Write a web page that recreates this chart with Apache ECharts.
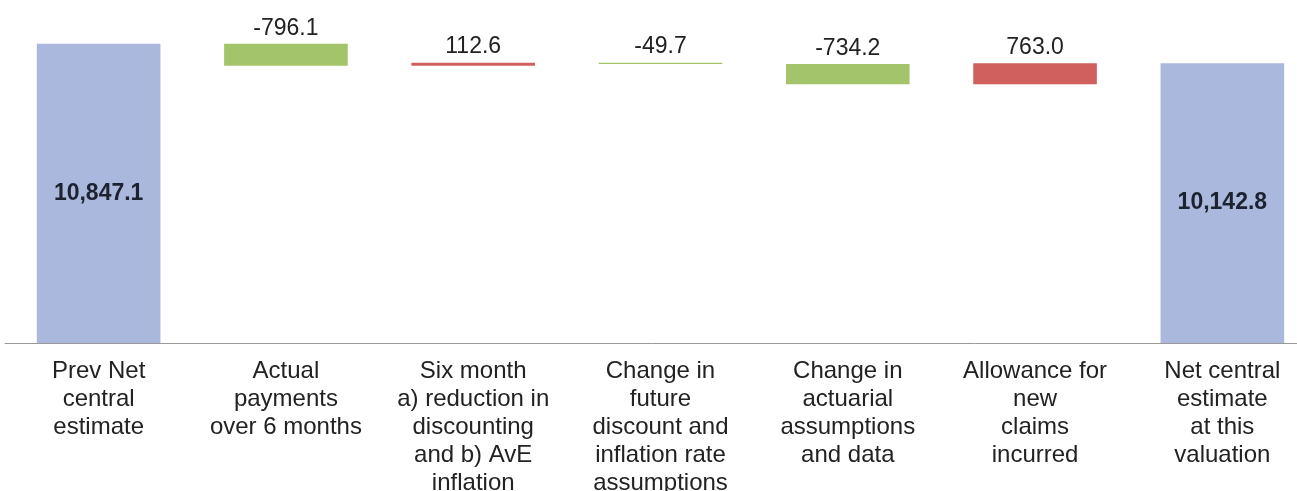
<!DOCTYPE html>
<html>
<head>
<meta charset="utf-8">
<script src="https://cdn.jsdelivr.net/npm/echarts@6/dist/echarts.min.js"></script>
<style>
html,body{margin:0;padding:0;background:#fff;}
#c{width:1297px;height:491px;}
</style>
</head>
<body>
<div id="c"></div>
<script>
const categories = [
  "Prev Net\ncentral\nestimate",
  "Actual\npayments\nover 6 months",
  "Six month\na) reduction in\ndiscounting\nand b) AvE\ninflation",
  "Change in\nfuture\ndiscount and\ninflation rate\nassumptions",
  "Change in\nactuarial\nassumptions\nand data",
  "Allowance for\nnew\nclaims\nincurred",
  "Net central\nestimate\nat this\nvaluation"
];
const startValue = 10847.1;
const changes = [-796.1, 112.6, -49.7, -734.2, 763.0];
const endValue = 10142.8;
const labelTexts = ["10,847.1", "-796.1", "112.6", "-49.7", "-734.2", "763.0", "10,142.8"];

const BLUE = '#a9b8dc', GREEN = '#a3c46b', RED = '#d0605e';
const FONT = 'Liberation Sans, Arial, sans-serif';

// build waterfall from the data
const baseData = [0];
const barData = [];
barData.push({value: startValue, itemStyle:{color:BLUE},
  label:{show:true, position:'inside', fontWeight:'bold', fontSize:23, color:'#1c2230', formatter: labelTexts[0]}});
let running = startValue;
changes.forEach((d, i) => {
  const next = running + d;
  baseData.push(Math.min(running, next));
  barData.push({value: Math.abs(d), itemStyle:{color: d < 0 ? GREEN : RED},
    label:{show:true, position:'top', distance:4, fontSize:23, color:'#222', formatter: labelTexts[i+1]}});
  running = next;
});
baseData.push(0);
barData.push({value: endValue, itemStyle:{color:BLUE},
  label:{show:true, position:'inside', fontWeight:'bold', fontSize:23, color:'#1c2230', formatter: labelTexts[6]}});

const chart = echarts.init(document.getElementById('c'), null, {renderer:'canvas'});
chart.setOption({
  animation:false,
  backgroundColor:'#fff',
  textStyle:{fontFamily:FONT},
  grid:{left:5, top:12, width:1311, height:331, outerBoundsMode:'none', containLabel:false},
  xAxis:{
    type:'category',
    data:categories,
    axisLine:{show:true, lineStyle:{color:'#9a9a9a', width:1}},
    axisTick:{show:false},
    axisLabel:{interval:0, fontSize:24, lineHeight:28, color:'#222', margin:14, fontFamily:FONT}
  },
  yAxis:{type:'value', min:0, max:12000, show:false, splitLine:{show:false}},
  series:[
    {type:'bar', stack:'w', data:baseData, itemStyle:{color:'transparent'}, barWidth:'66%', silent:true},
    {type:'bar', stack:'w', data:barData, barWidth:'66%'}
  ]
});
</script>
</body>
</html>
